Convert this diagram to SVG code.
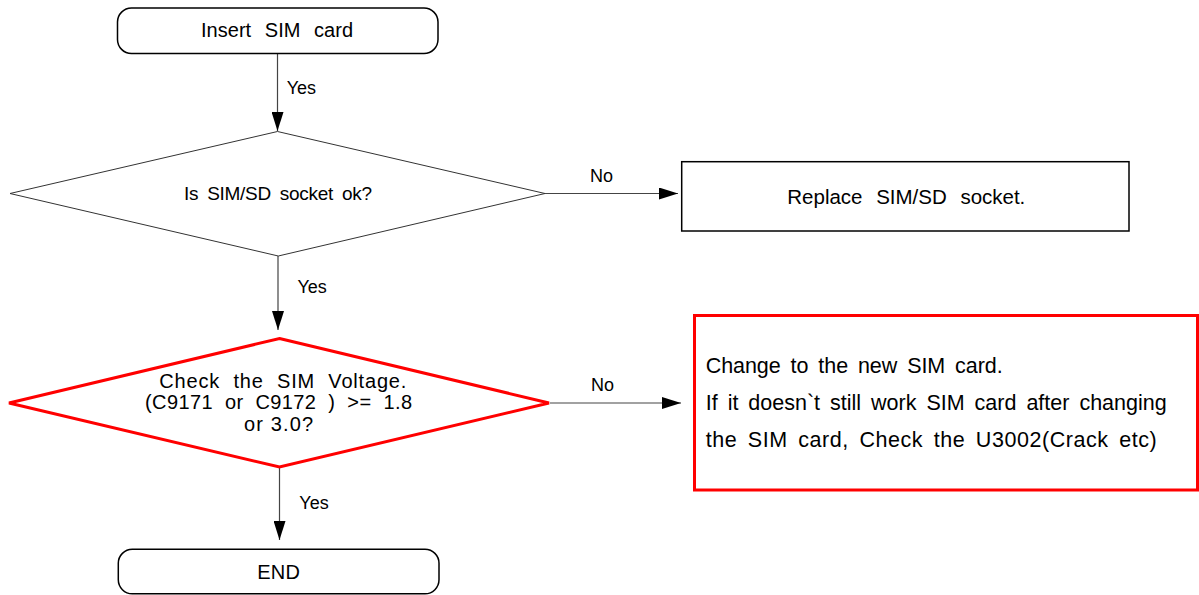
<svg xmlns="http://www.w3.org/2000/svg" width="1199" height="595" viewBox="0 0 1199 595">
<style>
text{font-family:"Liberation Sans",Arial,sans-serif;fill:#000}
.t-a{font-size:19px}
.t-b{font-size:20px}
.t-c{font-size:20.5px}
.t-d{font-size:21.5px}
.t-e{font-size:20px}
.lbl{font-size:18px}
.term{fill:#fff;stroke:#000;stroke-width:1.5}
.box{fill:#fff;stroke:#000;stroke-width:1.5}
.dia{fill:#fff;stroke:#333;stroke-width:1}
.red{fill:#fff;stroke:#f00;stroke-width:3}
.conn{stroke:#444;stroke-width:1.2;fill:none;marker-end:url(#ah)}
</style>
<defs>
<marker id="ah" markerUnits="userSpaceOnUse" markerWidth="19" markerHeight="12" refX="19" refY="6" orient="auto">
<path d="M0,0 L19,6 L0,12 z" fill="#000"/>
</marker>
</defs>
<rect width="1199" height="595" fill="#fff"/>
<g id="connectors">
<line class="conn" x1="277.5" y1="53.5" x2="277.5" y2="131"/>
<line class="conn" x1="278" y1="256" x2="278" y2="330"/>
<line class="conn" x1="279.5" y1="467" x2="279.5" y2="540"/>
<line class="conn" x1="545" y1="193.5" x2="678" y2="193.5"/>
<line class="conn" x1="550" y1="403" x2="681" y2="403"/>
<text class="lbl" x="286.7" y="94.3">Yes</text>
<text class="lbl" x="297.5" y="292.5">Yes</text>
<text class="lbl" x="299.3" y="509.3">Yes</text>
<text class="lbl" x="590" y="182.3">No</text>
<text class="lbl" x="591" y="391">No</text>
</g>
<g id="start">
<rect class="term" x="117.5" y="8" width="320.5" height="45.5" rx="14" ry="14"/>
<text class="t-b" x="201" y="37" textLength="152" lengthAdjust="spacing" style="word-spacing:8px">Insert SIM card</text>
</g>
<g id="check-socket">
<polygon class="dia" points="277.5,131.5 545,193.5 278.3,256 10,193.5"/>
<text class="t-a" x="184" y="199.5" textLength="188" lengthAdjust="spacing" style="word-spacing:4px">Is SIM/SD socket ok?</text>
</g>
<g id="replace-socket">
<rect class="box" x="681.7" y="161.7" width="447.3" height="69.3"/>
<text class="t-c" x="787.3" y="203.5" textLength="238" lengthAdjust="spacing" style="word-spacing:8px">Replace SIM/SD socket.</text>
</g>
<g id="check-voltage">
<polygon class="red" points="279.5,338.5 549,403 279.5,467 9,403"/>
<text class="t-e" x="159.3" y="387.5" textLength="247" lengthAdjust="spacing" style="word-spacing:7px">Check the SIM Voltage.</text>
<text class="t-e" x="145" y="409" textLength="267" lengthAdjust="spacing" style="word-spacing:6px">(C9171 or C9172 ) &gt;= 1.8</text>
<text class="t-e" x="244" y="430.5" textLength="69" lengthAdjust="spacing">or 3.0?</text>
</g>
<g id="change-sim">
<rect class="red" x="694.5" y="315.5" width="503" height="174.5"/>
<text class="t-d" x="705.7" y="372.5" textLength="297" lengthAdjust="spacing" style="word-spacing:4px">Change to the new SIM card.</text>
<text class="t-d" x="705.7" y="410" textLength="461" lengthAdjust="spacing" style="word-spacing:4px">If it doesn`t still work SIM card after changing</text>
<text class="t-d" x="705.7" y="447" textLength="451" lengthAdjust="spacing" style="word-spacing:4px">the SIM card, Check the U3002(Crack etc)</text>
</g>
<g id="end">
<rect class="term" x="118.3" y="549.3" width="320.7" height="44.5" rx="14" ry="14"/>
<text class="t-b" x="257.3" y="578.5" textLength="42.7" lengthAdjust="spacing">END</text>
</g>
</svg>
